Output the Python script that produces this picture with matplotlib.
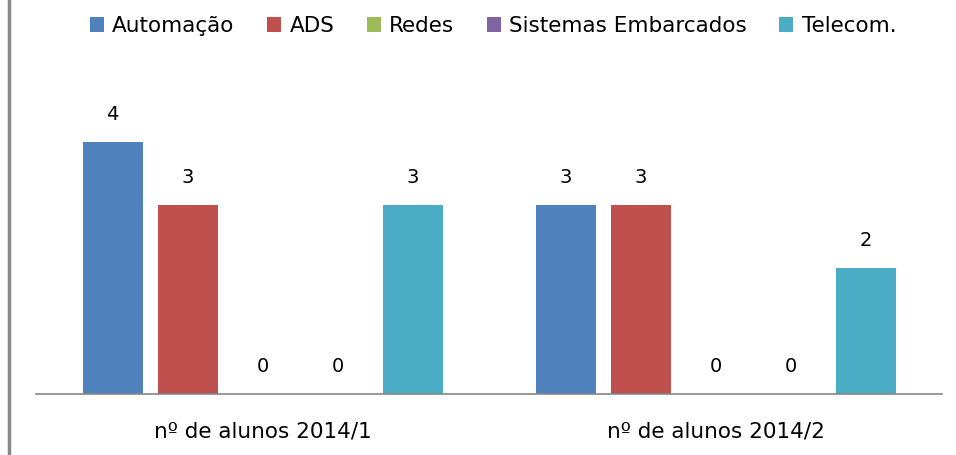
import numpy as np
import matplotlib.pyplot as plt
from matplotlib.lines import Line2D

plt.rcParams['font.family'] = ['DejaVu Sans']

categories = ["nº de alunos 2014/1", "nº de alunos 2014/2"]
series = ["Automação", "ADS", "Redes", "Sistemas Embarcados", "Telecom."]
values = {
    "Automação": [4, 3],
    "ADS": [3, 3],
    "Redes": [0, 0],
    "Sistemas Embarcados": [0, 0],
    "Telecom.": [3, 2],
}
colors = ["#4F81BD", "#C0504D", "#9BBB59", "#8064A2", "#4BACC6"]

W, H = 956, 455
fig = plt.figure(figsize=(W / 100, H / 100), dpi=100)
ax = fig.add_axes([36 / W, (H - 394) / H, (942 - 36) / W, (394 - 16) / H])

x = np.arange(len(categories))
width = 60 / 453
step = 75 / 453
for i, (name, col) in enumerate(zip(series, colors)):
    pos = x + (i - 2) * step
    ax.bar(pos, values[name], width=width, color=col, label=name)
    for xp, v in zip(pos, values[name]):
        ax.annotate(str(v), (xp, v), xytext=(0, 20), textcoords='offset points',
                    ha='center', va='center', fontsize=14)

ax.set_xlim(-0.5, 1.5)
ax.set_ylim(0, 6)
ax.set_xticks(x)
ax.set_xticklabels(categories, fontsize=15.5)
ax.tick_params(axis='x', length=0, pad=20)
ax.set_yticks([])
for s in ['left', 'right', 'top']:
    ax.spines[s].set_visible(False)
ax.spines['bottom'].set_color('#868686')
ax.spines['bottom'].set_linewidth(1.2)

fig.legend(loc='center', bbox_to_anchor=(493 / W, 1 - 26 / H), ncol=5, frameon=False,
           fontsize=15.5, handlelength=0.65, handleheight=0.65, handletextpad=0.4,
           columnspacing=1.5)

fig.add_artist(Line2D([8.5 / W, 8.5 / W], [0, 1], color='#888888', lw=2.5,
                      transform=fig.transFigure))

fig.savefig('out.png', dpi=100)
